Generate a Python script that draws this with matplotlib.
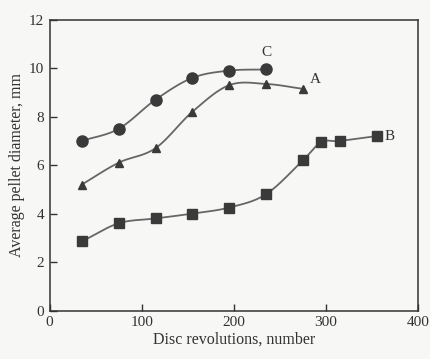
import numpy as np
import matplotlib
matplotlib.use("Agg")
import matplotlib.pyplot as plt

# Values
rev_c = [35, 75, 115, 155, 195, 235]
dia_c = [7.0, 7.5, 8.7, 9.6, 9.9, 9.95]

rev_a = [35, 75, 115, 155, 195, 235, 275]
dia_a = [5.2, 6.1, 6.7, 8.2, 9.3, 9.35, 9.15]

rev_b = [35, 75, 115, 155, 195, 235, 275, 295, 315, 355]
dia_b = [2.85, 3.6, 3.8, 4.0, 4.25, 4.8, 6.2, 6.95, 7.0, 7.2]


def smooth(x, y, n=20):
    # Catmull-Rom curve through the measured points (drawing only)
    x = np.asarray(x, float)
    y = np.asarray(y, float)
    px = np.concatenate([[2 * x[0] - x[1]], x, [2 * x[-1] - x[-2]]])
    py = np.concatenate([[2 * y[0] - y[1]], y, [2 * y[-1] - y[-2]]])
    xs, ys = [], []
    t = np.linspace(0, 1, n)
    for i in range(1, len(px) - 2):
        for p, out in ((px, xs), (py, ys)):
            p0, p1, p2, p3 = p[i - 1], p[i], p[i + 1], p[i + 2]
            out.extend(0.5 * (2 * p1 + (-p0 + p2) * t
                              + (2 * p0 - 5 * p1 + 4 * p2 - p3) * t ** 2
                              + (-p0 + 3 * p1 - 3 * p2 + p3) * t ** 3))
    return xs, ys


plt.rcParams["font.family"] = ["Liberation Serif", "DejaVu Serif"]

fig = plt.figure(figsize=(4.31, 3.59), dpi=100, facecolor="#f7f7f5")
ax = fig.add_axes([0.115, 0.135, 0.855, 0.81])
ax.set_facecolor("#f7f7f5")

line_col = "#666666"
mark_col = "#3a3a3a"

for x, y, m, ms in ((rev_c, dia_c, "o", 8),
                    (rev_a, dia_a, "^", 6),
                    (rev_b, dia_b, "s", 6.5)):
    sx, sy = smooth(x, y)
    ax.plot(sx, sy, color=line_col, lw=1.3)
    ax.plot(x, y, ls="none", marker=m, ms=ms, color=mark_col)

ax.text(rev_c[-1], dia_c[-1] + 0.45, "C", fontsize=11, ha="center", va="bottom", color="#333333")
ax.text(rev_a[-1] + 8, dia_a[-1] + 0.1, "A", fontsize=11, ha="left", va="bottom", color="#333333")
ax.text(rev_b[-1] + 9, dia_b[-1], "B", fontsize=11, ha="left", va="center", color="#333333")

ax.set_xlim(0, 400)
ax.set_ylim(0, 12)
ax.set_xticks([0, 100, 200, 300, 400])
ax.set_yticks([0, 2, 4, 6, 8, 10, 12])
ax.tick_params(direction="in", length=5, width=1, labelsize=11, colors="#333333", pad=4)
for s in ax.spines.values():
    s.set_color("#333333")
    s.set_linewidth(1.1)

ax.set_xlabel("Disc revolutions, number", fontsize=11.5, color="#333333", labelpad=2)
ax.set_ylabel("Average pellet diameter, mm", fontsize=11.5, color="#333333", labelpad=3)

fig.savefig("out.png", dpi=100, facecolor=fig.get_facecolor())
